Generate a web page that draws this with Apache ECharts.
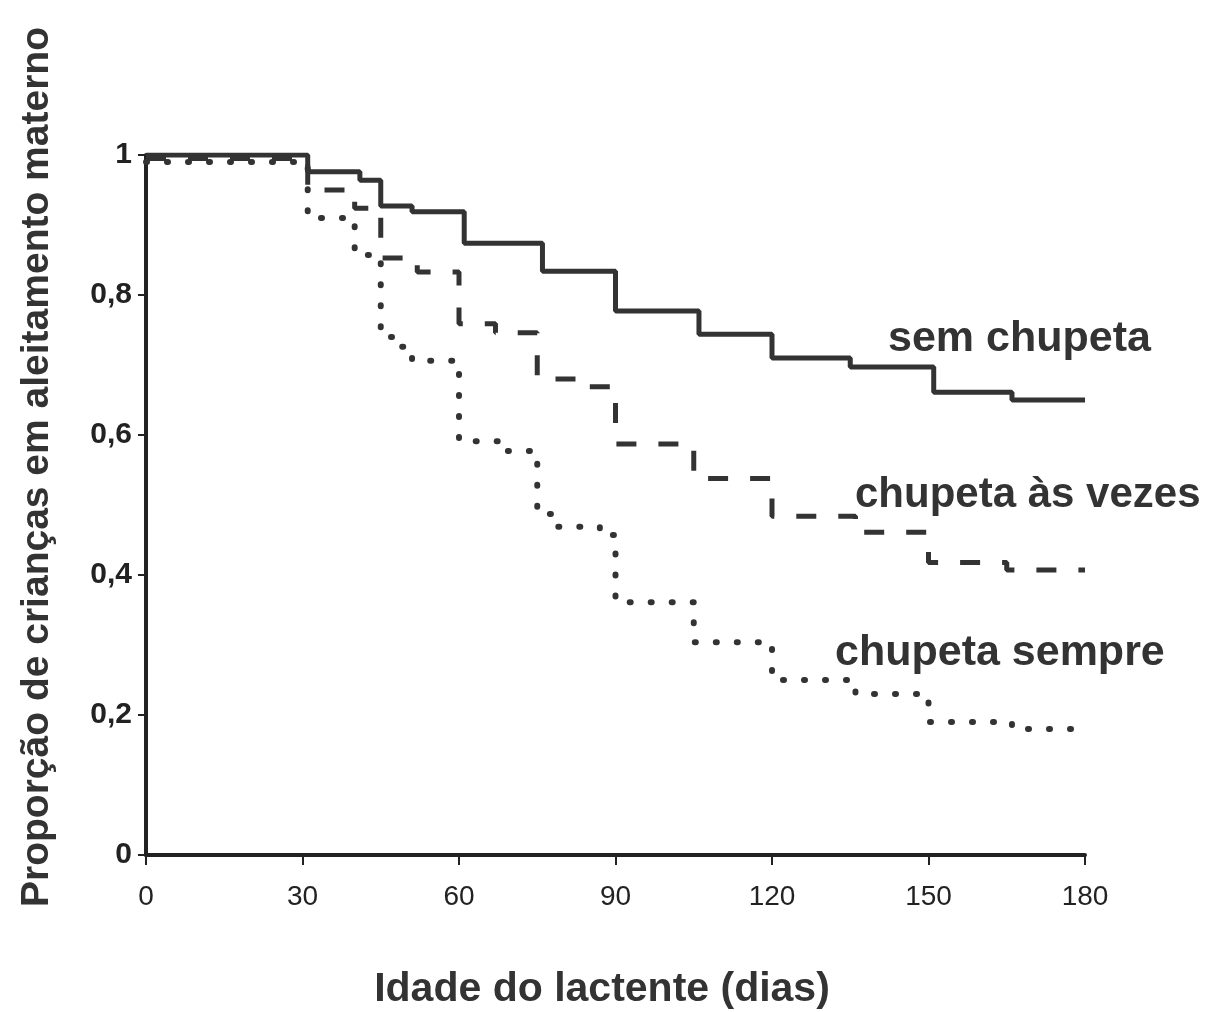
<!DOCTYPE html>
<html>
<head>
<meta charset="UTF-8">
<title>Aleitamento materno e uso de chupeta</title>
<script src="https://cdn.jsdelivr.net/npm/echarts@6/dist/echarts.min.js"></script>
<style>
  html, body { margin: 0; padding: 0; background: #fff; }
  #main { width: 1209px; height: 1012px; }
</style>
</head>
<body>
<div id="main"></div>
<script>
// dados (curvas de Kaplan-Meier, dias x proporção)
var semDias = [0, 31, 41, 45, 51, 61, 76, 90, 106, 120, 135, 151, 166, 180];
var semVals = [1, 0.976, 0.964, 0.927, 0.919, 0.874, 0.834, 0.777, 0.744, 0.71, 0.697, 0.661, 0.65, 0.65];

var vezesDias = [0, 31, 40, 45, 52, 60, 67, 75, 85, 90, 105, 120, 136, 150, 165, 180];
var vezesVals = [0.995, 0.95, 0.924, 0.853, 0.833, 0.759, 0.746, 0.68, 0.669, 0.587, 0.538, 0.484, 0.461, 0.418, 0.407, 0.407];

var sempreDias = [0, 31, 40, 45, 49, 51, 60, 68, 75, 79, 87, 90, 105, 120, 136, 150, 166, 180];
var sempreVals = [0.99, 0.91, 0.857, 0.74, 0.726, 0.706, 0.591, 0.577, 0.487, 0.469, 0.457, 0.361, 0.304, 0.25, 0.23, 0.19, 0.18, 0.18];

var yTickLabels = ['0', '0,2', '0,4', '0,6', '0,8', '1'];
var xTitulo = 'Idade do lactente (dias)';
var yTitulo = 'Proporção de crianças em aleitamento materno';
var nomes = ['sem chupeta', 'chupeta às vezes', 'chupeta sempre'];

function pares(dias, vals) {
  var out = [];
  for (var i = 0; i < dias.length; i++) out.push([dias[i], vals[i]]);
  return out;
}

var cor = '#333';
var fonte = "'Liberation Sans', Arial, Helvetica, sans-serif";

var myChart = echarts.init(document.getElementById('main'));

var option = {
  backgroundColor: '#fff',
  animation: false,
  grid: { left: 146, right: 124, top: 155, bottom: 157 },
  xAxis: {
    type: 'value',
    min: 0, max: 180, interval: 30,
    axisLine: { lineStyle: { color: '#222', width: 4 } },
    axisTick: { length: 10, lineStyle: { color: '#222', width: 2 } },
    axisLabel: { color: '#222', fontSize: 28, fontFamily: fonte, margin: 28 },
    splitLine: { show: false }
  },
  yAxis: {
    type: 'value',
    min: 0, max: 1, interval: 0.2,
    axisLine: { show: true, lineStyle: { color: '#222', width: 4 } },
    axisTick: { show: true, length: 8, lineStyle: { color: '#222', width: 2 } },
    axisLabel: {
      color: '#222', fontSize: 30, fontWeight: 'bold', fontFamily: fonte, margin: 14,
      formatter: function (v) { return yTickLabels[Math.round(v / 0.2)]; }
    },
    splitLine: { show: false }
  },
  series: [
    {
      name: nomes[0], type: 'line', step: 'end', symbol: 'none',
      data: pares(semDias, semVals),
      lineStyle: { color: cor, width: 5 }
    },
    {
      name: nomes[1], type: 'line', step: 'end', symbol: 'none',
      data: pares(vezesDias, vezesVals),
      lineStyle: { color: cor, width: 5, type: [20, 22] }
    },
    {
      name: nomes[2], type: 'line', step: 'end', symbol: 'none',
      data: pares(sempreDias, sempreVals),
      lineStyle: { color: cor, width: 6, type: [1, 20], cap: 'round' }
    }
  ],
  graphic: [
    { type: 'text', left: 888, top: 318,
      style: { text: nomes[0], fill: cor, font: 'bold 43px ' + fonte } },
    { type: 'text', left: 855, top: 474,
      style: { text: nomes[1], fill: cor, font: 'bold 42px ' + fonte } },
    { type: 'text', left: 835, top: 632,
      style: { text: nomes[2], fill: cor, font: 'bold 43px ' + fonte } },
    { type: 'text', x: 602, y: 990,
      style: { text: xTitulo, fill: cor, font: 'bold 41px ' + fonte, align: 'center', verticalAlign: 'middle' } },
    { type: 'text', x: 37, y: 467, rotation: Math.PI / 2,
      style: { text: yTitulo, fill: cor, font: 'bold 39px ' + fonte, align: 'center', verticalAlign: 'middle' } }
  ]
};

myChart.setOption(option);
</script>
</body>
</html>
